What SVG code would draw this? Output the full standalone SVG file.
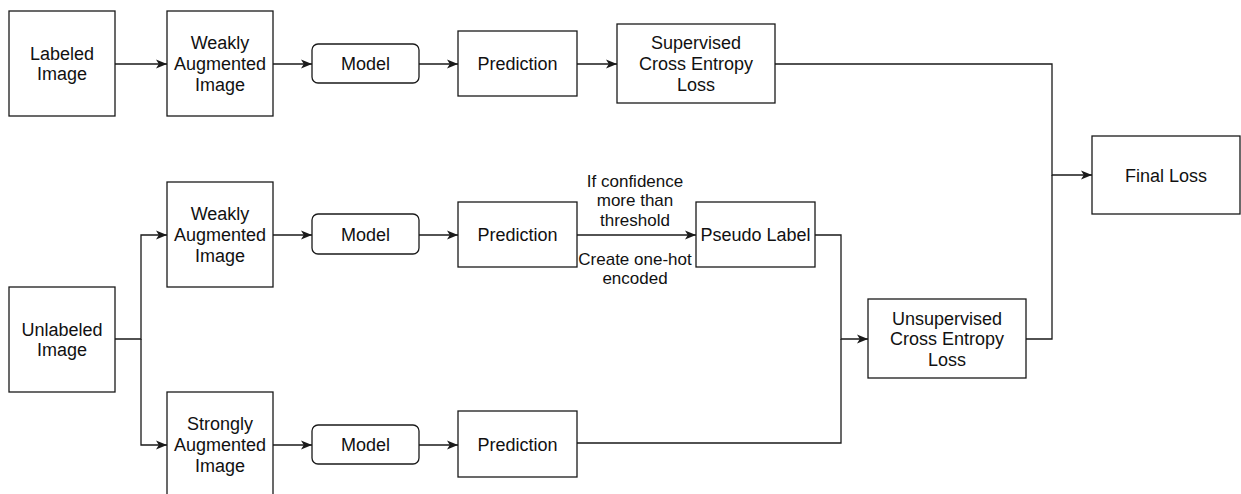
<svg xmlns="http://www.w3.org/2000/svg" width="1241" height="494" viewBox="0 0 1241 494">
<style>
.box{fill:#fff;stroke:#1a1a1a;stroke-width:1.3}
.t{font-family:"Liberation Sans",Arial,sans-serif;font-size:18px;fill:#111;text-anchor:middle}
.el{font-family:"Liberation Sans",Arial,sans-serif;font-size:17px;fill:#111;text-anchor:middle}
.c{fill:none;stroke:#1a1a1a;stroke-width:1.3}
.a{marker-end:url(#arr)}
</style>
<defs>
<marker id="arr" markerUnits="userSpaceOnUse" markerWidth="12" markerHeight="10" refX="11" refY="5" orient="auto">
<path d="M0,0.5 L11,5 L0,9.5 L2.8,5 z" fill="#1a1a1a"/>
</marker>
</defs>
<rect width="1241" height="494" fill="#fff"/>
<g id="connectors">
<path class="c a" d="M115,64 H167"/>
<path class="c a" d="M273,64 H312"/>
<path class="c a" d="M419,64 H458"/>
<path class="c a" d="M577,64 H617"/>
<path class="c a" d="M775,64 H1052 V175 H1092"/>
<path class="c a" d="M115,339 H141 V235 H167"/>
<path class="c a" d="M141,339 V445 H167"/>
<path class="c a" d="M273,235 H312"/>
<path class="c a" d="M419,235 H458"/>
<path class="c a" d="M577,235 H696"/>
<path class="c a" d="M815,235 H841 V339 H868"/>
<path class="c a" d="M273,445 H312"/>
<path class="c a" d="M419,445 H458"/>
<path class="c" d="M577,443 H841 V339"/>
<path class="c" d="M1026,339 H1052 V175"/>
<text class="el" x="635" y="186.5">If confidence</text>
<text class="el" x="635" y="206">more than</text>
<text class="el" x="635" y="225.5">threshold</text>
<text class="el" x="635" y="264.5">Create one-hot</text>
<text class="el" x="635" y="284">encoded</text>
</g>
<g id="labeled-image"><rect class="box" x="9" y="11" width="106" height="105"/><text class="t" x="62" y="59.7">Labeled</text><text class="t" x="62" y="80.3">Image</text></g>
<g id="weak-aug-1"><rect class="box" x="167" y="11" width="106" height="105"/><text class="t" x="220" y="49.3">Weakly</text><text class="t" x="220" y="70">Augmented</text><text class="t" x="220" y="90.7">Image</text></g>
<g id="model-1"><rect class="box" x="312" y="44" width="107" height="39" rx="6"/><text class="t" x="365.5" y="70">Model</text></g>
<g id="prediction-1"><rect class="box" x="458" y="31" width="119" height="65"/><text class="t" x="517.5" y="70">Prediction</text></g>
<g id="supervised-loss"><rect class="box" x="617" y="24" width="158" height="79"/><text class="t" x="696" y="49.3">Supervised</text><text class="t" x="696" y="70">Cross Entropy</text><text class="t" x="696" y="90.7">Loss</text></g>
<g id="final-loss"><rect class="box" x="1092" y="136" width="148" height="78"/><text class="t" x="1166" y="181.5">Final Loss</text></g>
<g id="unlabeled-image"><rect class="box" x="9" y="287" width="106" height="105"/><text class="t" x="62" y="335.7">Unlabeled</text><text class="t" x="62" y="356.3">Image</text></g>
<g id="weak-aug-2"><rect class="box" x="167" y="182" width="106" height="105"/><text class="t" x="220" y="220.3">Weakly</text><text class="t" x="220" y="241">Augmented</text><text class="t" x="220" y="261.7">Image</text></g>
<g id="model-2"><rect class="box" x="312" y="214" width="107" height="40" rx="6"/><text class="t" x="365.5" y="240.5">Model</text></g>
<g id="prediction-2"><rect class="box" x="458" y="202" width="119" height="65"/><text class="t" x="517.5" y="241">Prediction</text></g>
<g id="pseudo-label"><rect class="box" x="696" y="202" width="119" height="65"/><text class="t" x="755.5" y="241">Pseudo Label</text></g>
<g id="unsupervised-loss"><rect class="box" x="868" y="299" width="158" height="79"/><text class="t" x="947" y="324.5">Unsupervised</text><text class="t" x="947" y="345">Cross Entropy</text><text class="t" x="947" y="365.7">Loss</text></g>
<g id="strong-aug"><rect class="box" x="167" y="392" width="106" height="105"/><text class="t" x="220" y="430.3">Strongly</text><text class="t" x="220" y="451">Augmented</text><text class="t" x="220" y="471.7">Image</text></g>
<g id="model-3"><rect class="box" x="312" y="425" width="107" height="39" rx="6"/><text class="t" x="365.5" y="451">Model</text></g>
<g id="prediction-3"><rect class="box" x="458" y="411" width="119" height="66"/><text class="t" x="517.5" y="450.5">Prediction</text></g>
</svg>
